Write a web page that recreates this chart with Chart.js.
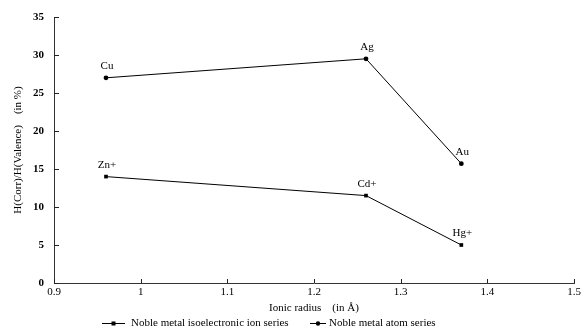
<!DOCTYPE html>
<html>
<head>
<meta charset="utf-8">
<script src="https://cdn.jsdelivr.net/npm/chart.js"></script>
<style>
  html, body { margin: 0; padding: 0; background: #fff; }
  #wrap { width: 584px; height: 333px; }
</style>
</head>
<body>
<div id="wrap"><canvas id="myChart"></canvas></div>
<script>
// du lieu doc tu hinh
const ionNames = ['Zn+', 'Cd+', 'Hg+'];
const ionRadius = [0.96, 1.26, 1.37];
const ionValues = [14.0, 11.5, 5.0];

const atomNames = ['Cu', 'Ag', 'Au'];
const atomRadius = [0.96, 1.26, 1.37];
const atomValues = [27.0, 29.5, 15.7];

const xTicks = [0.9, 1, 1.1, 1.2, 1.3, 1.4, 1.5];
const yTicks = [0, 5, 10, 15, 20, 25, 30, 35];

const seriesLabels = ['Noble metal isoelectronic ion series', 'Noble metal atom series'];

const FONT = 'Liberation Serif';

// nhan ten nguyen to tren moi diem
const pointLabels = {
    id: 'pointLabels',
    afterDatasetsDraw(chart) {
        const ctx = chart.ctx;
        const names = [ionNames, atomNames];
        ctx.save();
        ctx.font = '11px "' + FONT + '"';
        ctx.fillStyle = '#000';
        ctx.textAlign = 'center';
        ctx.textBaseline = 'alphabetic';
        chart.data.datasets.forEach((ds, i) => {
            chart.getDatasetMeta(i).data.forEach((el, j) => {
                ctx.fillText(names[i][j], el.x + 1, el.y - 9);
            });
        });
        ctx.restore();
    }
};

// vach chia huong vao trong + chu thich phia duoi
const axisExtras = {
    id: 'axisExtras',
    afterDraw(chart) {
        const ctx = chart.ctx;
        const xs = chart.scales.x, ys = chart.scales.y;
        ctx.save();
        ctx.strokeStyle = '#222';
        ctx.lineWidth = 1;
        ctx.beginPath();
        yTicks.forEach(v => {
            const y = Math.round(ys.getPixelForValue(v)) + 0.5;
            ctx.moveTo(xs.left, y);
            ctx.lineTo(xs.left + 5, y);
        });
        xTicks.forEach(v => {
            const x = Math.round(xs.getPixelForValue(v)) + 0.5;
            ctx.moveTo(x, ys.bottom);
            ctx.lineTo(x, ys.bottom - 4);
        });
        ctx.stroke();

        // legend: duong + diem + chu
        const ly = 323.5;
        const items = [
            { x1: 102, x2: 125, style: 'rect', tx: 131 },
            { x1: 310, x2: 326, style: 'circle', tx: 329 }
        ];
        ctx.font = '11px "' + FONT + '"';
        ctx.textAlign = 'left';
        ctx.textBaseline = 'middle';
        ctx.fillStyle = '#000';
        items.forEach((it, i) => {
            ctx.strokeStyle = '#000';
            ctx.beginPath();
            ctx.moveTo(it.x1, ly);
            ctx.lineTo(it.x2, ly);
            ctx.stroke();
            const mx = (it.x1 + it.x2) / 2;
            if (it.style === 'rect') {
                ctx.fillRect(mx - 2, ly - 2, 4, 4);
            } else {
                ctx.beginPath();
                ctx.arc(mx, ly, 2.2, 0, Math.PI * 2);
                ctx.fill();
            }
            ctx.fillText(seriesLabels[i], it.tx, ly);
        });
        ctx.restore();
    }
};

const ctx = document.getElementById('myChart').getContext('2d');
new Chart(ctx, {
    type: 'line',
    data: {
        datasets: [
            {
                label: seriesLabels[0],
                data: ionRadius.map((r, i) => ({ x: r, y: ionValues[i] })),
                borderColor: '#000',
                backgroundColor: '#000',
                borderWidth: 1,
                pointStyle: 'rect',
                pointRadius: 2.6,
                pointBorderWidth: 0,
                tension: 0
            },
            {
                label: seriesLabels[1],
                data: atomRadius.map((r, i) => ({ x: r, y: atomValues[i] })),
                borderColor: '#000',
                backgroundColor: '#000',
                borderWidth: 1,
                pointStyle: 'circle',
                pointRadius: 2.4,
                pointBorderWidth: 0,
                tension: 0
            }
        ]
    },
    options: {
        responsive: true,
        maintainAspectRatio: false,
        animation: false,
        devicePixelRatio: 1,
        layout: { padding: { left: 0, right: 10, top: 17, bottom: 0 } },
        plugins: {
            legend: { display: false },
            tooltip: { enabled: false }
        },
        scales: {
            x: {
                type: 'linear',
                min: 0.9,
                max: 1.5,
                afterBuildTicks: s => { s.ticks = xTicks.map(v => ({ value: v })); },
                afterFit: s => { s.height = 50; },
                grid: { display: false, drawTicks: false },
                border: { display: true, color: '#333', width: 1 },
                ticks: {
                    padding: 3,
                    color: '#000',
                    font: { family: FONT, size: 11 },
                    callback: v => String(Number(v.toFixed(1)))
                },
                title: {
                    display: true,
                    text: 'Ionic radius    (in \u00C5)',
                    color: '#000',
                    font: { family: FONT, size: 11 },
                    padding: { top: 0, bottom: 18 }
                }
            },
            y: {
                min: 0,
                max: 35,
                afterBuildTicks: s => { s.ticks = yTicks.map(v => ({ value: v })); },
                afterFit: s => { s.width = 54; },
                grid: { display: false, drawTicks: false },
                border: { display: true, color: '#333', width: 1 },
                ticks: {
                    padding: 10,
                    color: '#000',
                    font: { family: FONT, size: 11, weight: 'bold' }
                },
                title: {
                    display: true,
                    text: 'H(Corr)/H(Valence)    (in %)',
                    color: '#000',
                    font: { family: FONT, size: 11 },
                    padding: { top: 12, bottom: 0 }
                }
            }
        }
    },
    plugins: [pointLabels, axisExtras]
});
</script>
</body>
</html>
